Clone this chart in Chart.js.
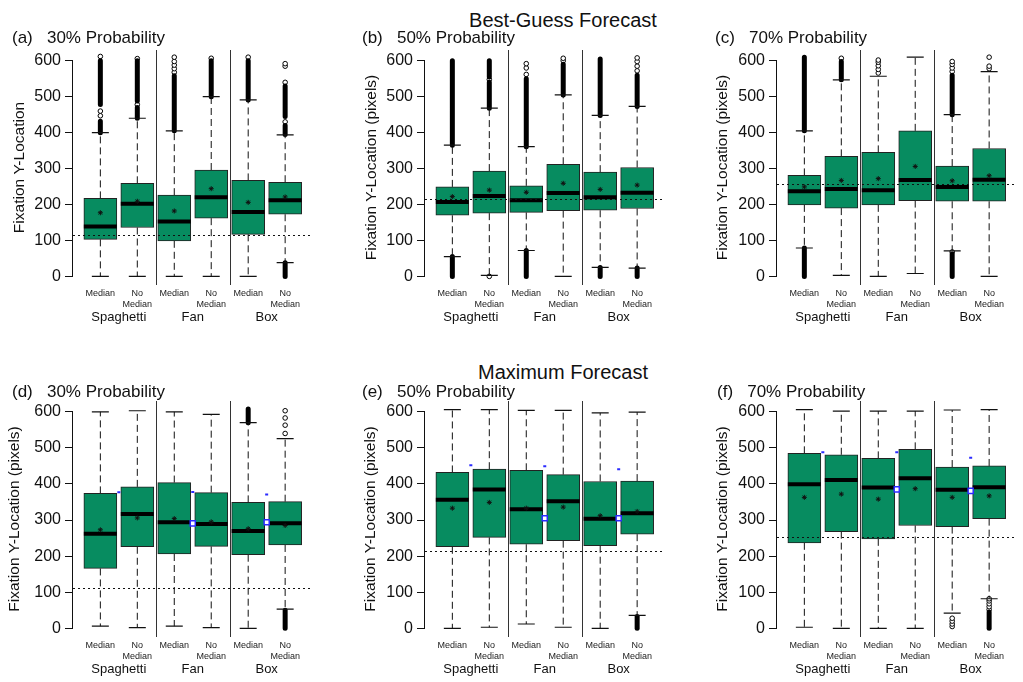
<!DOCTYPE html>
<html>
<head>
<meta charset="utf-8">
<script src="https://cdn.jsdelivr.net/npm/chart.js@4.4.1/dist/chart.umd.min.js"></script>
<style>
  html, body { margin: 0; padding: 0; background: #fff; overflow: hidden; }
  body { width: 1023px; height: 682px; position: relative; font-family: 'Liberation Sans', Arial, sans-serif; }
  canvas { position: absolute; }
  .main { position: absolute; width: 300px; text-align: center; font-size: 20px; line-height: 20px; color: #111; }
</style>
</head>
<body>
<div class="main" style="left:413px;top:10px">Best-Guess Forecast</div>
<div class="main" style="left:413px;top:362px">Maximum Forecast</div>
<canvas id="p0" width="333" height="331" style="left:0px;top:0px"></canvas>
<canvas id="p1" width="335" height="331" style="left:350px;top:0px"></canvas>
<canvas id="p2" width="334" height="331" style="left:703px;top:0px"></canvas>
<canvas id="p3" width="333" height="323" style="left:0px;top:360px"></canvas>
<canvas id="p4" width="335" height="323" style="left:350px;top:360px"></canvas>
<canvas id="p5" width="332" height="323" style="left:705px;top:360px"></canvas>
<script>
// ---- data ----
const categories = ['Median', ['No', 'Median'], 'Median', ['No', 'Median'], 'Median', ['No', 'Median']];
const groups = ['Spaghetti', 'Fan', 'Box'];
const boxPos = [1, 2, 3, 4, 5, 6];
const groupPos = [1.5, 3.5, 5.5];
const separators = [2.5, 4.5];
const yTicks = [0, 100, 200, 300, 400, 500, 600];

const panelTitles = ['(a)   30% Probability', '(b)   50% Probability', '(c)   70% Probability',
                     '(d)   30% Probability', '(e)   50% Probability', '(f)   70% Probability'];
const yTitles = ['Fixation Y-Location', 'Fixation Y-Location (pixels)', 'Fixation Y-Location (pixels)',
                 'Fixation Y-Location (pixels)', 'Fixation Y-Location (pixels)', 'Fixation Y-Location (pixels)'];
const refLines = [114, 214, 256, 113, 213, 254];

const q1 = [
  [103, 136, 99, 162, 117, 173],
  [170, 176, 178, 183, 184, 189],
  [199, 190, 199, 211, 209, 209],
  [166, 226, 206, 227, 204, 231],
  [226, 252, 233, 243, 229, 261],
  [237, 268, 248, 285, 282, 304]
];
const q3 = [
  [217, 259, 226, 296, 267, 262],
  [249, 293, 252, 312, 290, 303],
  [281, 334, 345, 405, 307, 356],
  [374, 392, 404, 376, 349, 351],
  [432, 441, 438, 426, 407, 408],
  [485, 481, 471, 496, 447, 450]
];
const medians = [
  [139, 202, 153, 220, 179, 212],
  [207, 224, 212, 232, 220, 233],
  [237, 243, 240, 268, 249, 269],
  [262, 317, 294, 289, 270, 291],
  [356, 385, 330, 352, 304, 319],
  [399, 411, 390, 416, 384, 391]
];
const means = [
  [177, 209, 182, 244, 206, 221],
  [222, 240, 234, 259, 242, 254],
  [249, 267, 272, 306, 266, 280],
  [273, 306, 304, 295, 276, 285],
  [333, 349, 333, 336, 312, 324],
  [363, 372, 358, 387, 363, 367]
];
const whiskLo = [
  [0, 0, 0, 0, 0, 38],
  [55, 3, 72, 0, 25, 23],
  [79, 3, 0, 8, 71, 0],
  [6, 2, 6, 2, 0, 53],
  [0, 3, 12, 3, 0, 36],
  [3, 0, 0, 0, 42, 82]
];
const whiskHi = [
  [400, 440, 405, 500, 491, 394],
  [365, 468, 361, 505, 448, 473],
  [405, 547, 557, 610, 450, 570],
  [600, 603, 600, 593, 570, 526],
  [606, 606, 604, 604, 597, 599],
  [606, 602, 602, 602, 605, 606]
];
// runs of outliers so dense they merge into a solid column: [from, to]
const outlierBands = [
  [[[400, 432], [478, 600]], [[440, 470], [488, 600]], [[405, 558]], [[500, 600]], [[491, 600]], [[395, 420], [445, 530], [0, 38]]],
  [[[365, 600], [0, 55]], [[468, 540], [555, 600]], [[361, 550], [0, 72]], [[505, 590]], [[448, 605], [0, 25]], [[473, 560], [0, 23]]],
  [[[405, 610], [0, 79]], [[547, 598]], [], [], [[450, 560], [0, 62]], []],
  [[], [], [], [], [[570, 608]], [[0, 50]]],
  [[], [], [], [], [], [[0, 33]]],
  [[], [], [], [], [], [[0, 45]]]
];
// single outliers
const outlierPoints = [
  [[447, 460, 612], [478, 606], [568, 578, 588, 598, 610], [607], [610], [430, 540, 585, 592]],
  [[], [0, 548], [562, 580, 592], [600, 607], [], [572, 585, 598, 608]],
  [[], [607], [566, 576, 586, 596, 602], [], [570, 580, 590, 598, 68], [578, 585, 610]],
  [[], [], [], [], [], [540, 563, 583, 603]],
  [[], [], [], [], [], []],
  [[], [], [], [], [5, 12, 20, 28], [52, 60, 68, 76, 82]]
];
// blue markers between each pair of boxes
const blueDash = [null, null, null, [377, 378, 371], [452, 449, 441], [488, 488, 473]];
const blueSquare = [null, null, null, [null, 291, 294], [null, 305, 305], [null, 385, 381]];

// ---- layout (per panel) ----
const panelLayout = [
  { yw: 61, tTop: 29.5, tBot: 3.5, yTitlePad: 0 },
  { yw: 63, tTop: 29.5, tBot: 3.5, yTitlePad: 2 },
  { yw: 62, tTop: 29.5, tBot: 3.5, yTitlePad: 0 },
  { yw: 61, tTop: 23.5, tBot: 0.5, yTitlePad: -4.75 },
  { yw: 63, tTop: 23.5, tBot: 0.5, yTitlePad: 1 },
  { yw: 60, tTop: 23.5, tBot: 0.5, yTitlePad: -1.75 }
];

Chart.defaults.font.family = "'Liberation Sans', Arial, sans-serif";
Chart.defaults.color = '#111';

const GREEN = '#078c60';
const BLUE = '#2b2bff';

const decor = {
  id: 'decor',
  afterDatasetsDraw(chart, args, opts) {
    const { ctx, chartArea: a, scales: { x, y } } = chart;
    ctx.save();
    ctx.lineWidth = 1;
    // group separators
    ctx.strokeStyle = '#333';
    separators.forEach(v => {
      const px = Math.round(x.getPixelForValue(v)) + 0.5;
      ctx.beginPath(); ctx.moveTo(px, a.top); ctx.lineTo(px, a.bottom); ctx.stroke();
    });
    // y axis line from 0 to 600
    ctx.strokeStyle = '#111';
    const ax = Math.round(a.left) - 0.5;
    ctx.beginPath();
    ctx.moveTo(ax, y.getPixelForValue(yTicks[0]));
    ctx.lineTo(ax, y.getPixelForValue(yTicks[yTicks.length - 1]));
    ctx.stroke();
    // dotted reference line
    const ry = Math.round(y.getPixelForValue(opts.ref)) + 0.5;
    ctx.setLineDash([2, 3]);
    ctx.beginPath(); ctx.moveTo(a.left, ry); ctx.lineTo(a.right, ry); ctx.stroke();
    ctx.restore();
  }
};

function buildDatasets(p) {
  const ds = [];
  ds.push({ type: 'scatter', data: boxPos.map((x, i) => ({ x, y: means[p][i] })),
    pointStyle: 'star', pointRadius: 2.5, borderColor: '#111', borderWidth: 1 });
  ds.push({ type: 'scatter', data: boxPos.map((x, i) => ({ x, y: medians[p][i] })),
    pointStyle: 'line', pointRadius: 16.5, borderColor: '#000', borderWidth: 4 });
  ds.push({ type: 'bar', data: boxPos.map((x, i) => ({ x, y: [q1[p][i], q3[p][i]] })),
    backgroundColor: GREEN, borderColor: '#222', borderWidth: 1, borderSkipped: false,
    barThickness: 33, grouped: false });
  // whisker caps
  const caps = [];
  boxPos.forEach((x, i) => { caps.push({ x, y: whiskLo[p][i] }, { x, y: whiskHi[p][i] }); });
  ds.push({ type: 'scatter', data: caps, pointStyle: 'line', pointRadius: 8.5, borderColor: '#111', borderWidth: 1.2 });
  // dashed whiskers
  const wh = [];
  boxPos.forEach((x, i) => {
    wh.push({ x, y: q3[p][i] }, { x, y: whiskHi[p][i] }, { x, y: null });
    wh.push({ x, y: q1[p][i] }, { x, y: whiskLo[p][i] }, { x, y: null });
  });
  ds.push({ type: 'line', data: wh, borderColor: '#111', borderWidth: 1, borderDash: [7, 4],
    pointRadius: 0, spanGaps: false, fill: false });
  // dense outlier columns
  const bands = [];
  boxPos.forEach((x, i) => {
    outlierBands[p][i].forEach(b => { bands.push({ x, y: b[0] }, { x, y: b[1] }, { x, y: null }); });
  });
  if (bands.length) {
    ds.push({ type: 'line', data: bands, borderColor: '#000', borderWidth: 5, borderCapStyle: 'round',
      pointRadius: 0, spanGaps: false, fill: false });
  }
  // single outliers
  const pts = [];
  boxPos.forEach((x, i) => { outlierPoints[p][i].forEach(v => pts.push({ x, y: v })); });
  if (pts.length) {
    ds.push({ type: 'scatter', data: pts, pointStyle: 'circle', pointRadius: 2.3,
      backgroundColor: '#fff', borderColor: '#000', borderWidth: 1 });
  }
  if (blueDash[p]) {
    ds.push({ type: 'scatter', order: -1, data: groupPos.map((x, i) => ({ x, y: blueDash[p][i] })),
      pointStyle: 'line', pointRadius: 1.5, borderColor: BLUE, borderWidth: 2 });
    ds.push({ type: 'scatter', order: -1, data: groupPos.map((x, i) => ({ x, y: blueSquare[p][i] })),
      pointStyle: 'rect', pointRadius: 3.6, backgroundColor: '#fff', borderColor: BLUE, borderWidth: 1.5 });
  }
  return ds;
}

function makePanel(p) {
  const L = panelLayout[p];
  new Chart(document.getElementById('p' + p), {
    type: 'bar',
    data: { datasets: buildDatasets(p) },
    plugins: [decor],
    options: {
      responsive: false,
      animation: false,
      events: [],
      layout: { padding: { left: 12, right: 0, top: 0, bottom: 0 } },
      plugins: {
        legend: { display: false },
        tooltip: { enabled: false },
        title: {
          display: true, text: panelTitles[p], align: 'start', color: '#111',
          font: { size: 17, weight: 'normal', lineHeight: 1 },
          padding: { top: L.tTop, bottom: L.tBot }
        },
        decor: { ref: refLines[p] }
      },
      scales: {
        x: {
          type: 'linear', position: 'bottom', min: 0.26, max: 6.74, offset: false, weight: 0,
          grid: { display: false, drawTicks: false }, border: { display: false },
          afterBuildTicks: s => { s.ticks = boxPos.map(v => ({ value: v })); },
          afterFit: s => { s.height = 22; },
          ticks: { autoSkip: false, maxRotation: 0, minRotation: 0, padding: 3, color: '#222',
            font: { size: 9, lineHeight: 1.2 }, callback: (v, i) => categories[i] }
        },
        x2: {
          type: 'linear', position: 'bottom', min: 0.26, max: 6.74, offset: false, weight: 1,
          grid: { display: false, drawTicks: false }, border: { display: false },
          afterBuildTicks: s => { s.ticks = groupPos.map(v => ({ value: v })); },
          afterFit: s => { s.height = 24; },
          ticks: { autoSkip: false, maxRotation: 0, minRotation: 0, padding: 3, color: '#111',
            font: { size: 13, lineHeight: 1.2 }, callback: (v, i) => groups[i] }
        },
        y: {
          type: 'linear', min: -24, max: 630,
          afterBuildTicks: s => { s.ticks = yTicks.map(v => ({ value: v })); },
          afterFit: s => { s.width = L.yw; },
          grid: { drawOnChartArea: false, drawTicks: true, tickLength: 8, color: '#111', lineWidth: 1 },
          border: { display: false },
          ticks: { padding: 4, color: '#111', font: { size: 16 } },
          title: { display: true, text: yTitles[p], color: '#111',
            font: { size: 15.5, lineHeight: 1 }, padding: { top: L.yTitlePad, bottom: 0 } }
        }
      }
    }
  });
}

for (let p = 0; p < 6; p++) makePanel(p);
</script>
</body>
</html>
